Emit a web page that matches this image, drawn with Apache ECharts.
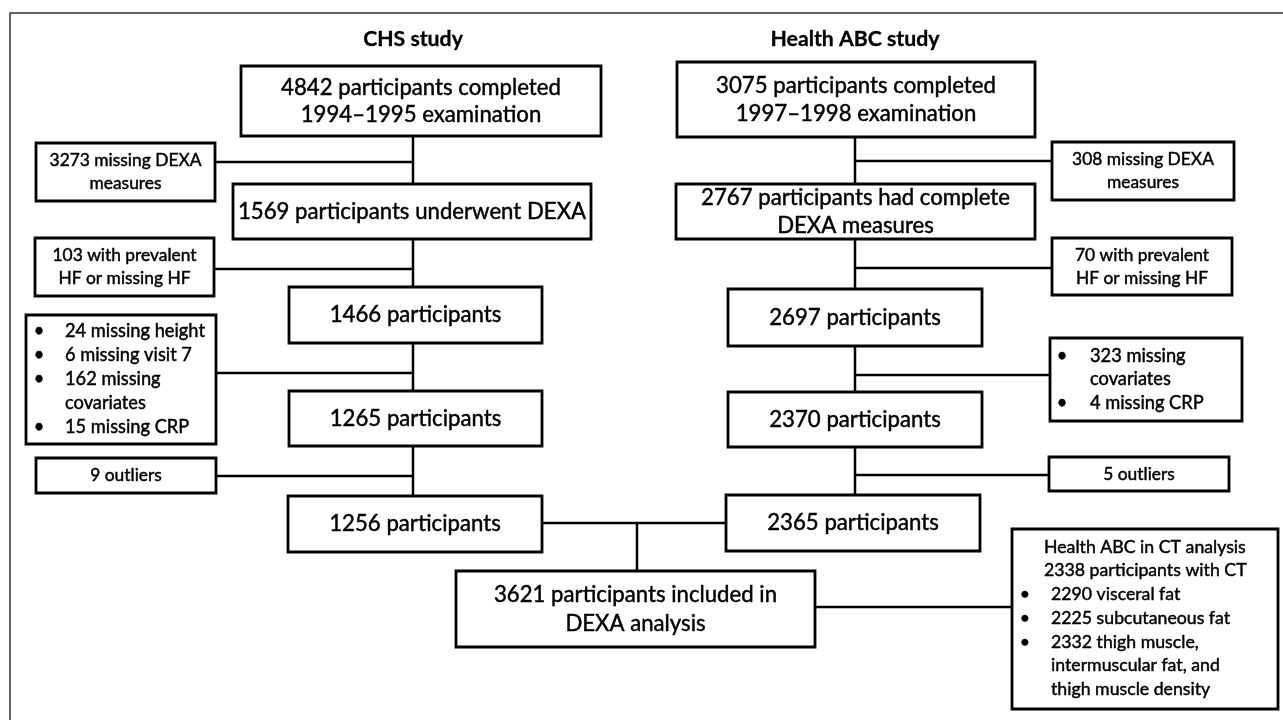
<!DOCTYPE html>
<html><head><meta charset="utf-8">
<script src="https://cdn.jsdelivr.net/npm/echarts@6/dist/echarts.min.js"></script>
<style>html,body{margin:0;padding:0;background:#fff}#c{width:1283px;height:720px}</style>
</head><body><div id="c"></div>
<script>
// ================= DATA =================
const studyTitles = ['CHS study', 'Health ABC study'];
const chsSteps = [
  '4842 participants completed\n1994\u20131995 examination',
  '1569 participants underwent DEXA',
  '1466 participants',
  '1265 participants',
  '1256 participants'
];
const abcSteps = [
  '3075 participants completed\n1997\u20131998 examination',
  '2767 participants had complete\nDEXA measures',
  '2697 participants',
  '2370 participants',
  '2365 participants'
];
const chsExclusions = ['3273 missing DEXA\nmeasures', '103 with prevalent\nHF or missing HF', null, '9 outliers'];
const chsCovariateBullets = ['24 missing height', '6 missing visit 7', '162 missing\ncovariates', '15 missing CRP'];
const abcExclusions = ['308 missing DEXA\nmeasures', '70 with prevalent\nHF or missing HF', null, '5 outliers'];
const abcCovariateBullets = ['323 missing\ncovariates', '4 missing CRP'];
const combinedLabel = '3621 participants included in\nDEXA analysis';
const ctHeader = ['Health ABC in CT analysis', '2338 participants with CT'];
const ctBullets = ['2290 visceral fat', '2225 subcutaneous fat', '2332 thigh muscle,\nintermuscular fat, and\nthigh muscle density'];

// ================= LAYOUT =================
const W = 1283, H = 720;
const chsStepBoxes = [[241,66,601,136],[233,184,591,239],[289,287,542,343],[289,391,542,446],[288,496,542,552]];
const abcStepBoxes = [[677,62,1035,137],[676,184,1035,239],[728,289,982,346],[728,392,982,447],[726,495,980,551]];
const chsExclBoxes = [[36,143,215,201],[35,238,214,296],[26,315,216,444],[36,458,216,493]];
const chsExclLinkY = [162,269,373,476];
const abcExclBoxes = [[1052,142,1234,200],[1052,238,1232,295],[1050,338,1242,421],[1049,457,1229,491]];
const abcExclLinkY = [161,268,375,475];
const combinedBox = [456,571,815,647];
const ctBox = [1012,529,1278,709];
const trunkX = [413, 855];
const titleY = 39;
const joinX = 637, joinY = 523, ctLinkY = 607;
const chsBulletLayout = {bulletDX: 13, textDX: 39, firstDY: 16, step: 24};
const abcBulletLayout = {bulletDX: 12, textDX: 40, firstDY: 18, step: 23.5};
const ctLayout = {headerDX: 32, bulletDX: 13, textDX: 39, firstDY: 18, step: 23.7};

// font sizing (fit measured widths)
const FAMILY = 'Lato, "Liberation Sans", sans-serif';
const mctx = document.createElement('canvas').getContext('2d');
function fit(sample, target, weight) {
  mctx.font = weight + ' 100px ' + FAMILY;
  return 100 * target / mctx.measureText(sample).width;
}
const fMain = fit('4842 participants completed', 280, 'normal');
const fSide = fit('3273 missing DEXA', 152, 'normal');
const fBullet = fit('24 missing height', 140, 'normal');
const fCT = fit('Health ABC in CT analysis', 202, 'normal');
const fTitle = fit('Health ABC study', 169, 'bold');

// ================= ELEMENTS =================
const boxes = [];
chsSteps.forEach((t, i) => boxes.push({kind: 'box', rect: chsStepBoxes[i], text: t, size: fMain, lh: 27}));
abcSteps.forEach((t, i) => boxes.push({kind: 'box', rect: abcStepBoxes[i], text: t, size: fMain, lh: 28}));
chsExclusions.forEach((t, i) => {
  if (t) boxes.push({kind: 'box', rect: chsExclBoxes[i], text: t, size: fSide, lh: 23});
  else boxes.push({kind: 'list', rect: chsExclBoxes[i], items: chsCovariateBullets, lay: chsBulletLayout, size: fBullet});
});
abcExclusions.forEach((t, i) => {
  if (t) boxes.push({kind: 'box', rect: abcExclBoxes[i], text: t, size: fSide, lh: 23});
  else boxes.push({kind: 'list', rect: abcExclBoxes[i], items: abcCovariateBullets, lay: abcBulletLayout, size: fBullet});
});
boxes.push({kind: 'box', rect: combinedBox, text: combinedLabel, size: fMain, lh: 29});
boxes.push({kind: 'ct', rect: ctBox, header: ctHeader, items: ctBullets, lay: ctLayout, size: fCT});
studyTitles.forEach((t, i) => boxes.push({kind: 'title', x: trunkX[i], y: titleY, text: t, size: fTitle}));

// connectors (from box edges)
const links = [];
links.push([[trunkX[0], chsStepBoxes[0][3]], [trunkX[0], chsStepBoxes[4][1]]]);
links.push([[trunkX[1], abcStepBoxes[0][3]], [trunkX[1], abcStepBoxes[4][1]]]);
chsExclBoxes.forEach((b, i) => links.push([[b[2], chsExclLinkY[i]], [trunkX[0], chsExclLinkY[i]]]));
abcExclBoxes.forEach((b, i) => links.push([[trunkX[1], abcExclLinkY[i]], [b[0], abcExclLinkY[i]]]));
links.push([[chsStepBoxes[4][2], joinY], [abcStepBoxes[4][0], joinY]]);
links.push([[joinX, joinY], [joinX, combinedBox[1]]]);
links.push([[combinedBox[2], ctLinkY], [ctBox[0], ctLinkY]]);
// outer frame (cut by the canvas at right and bottom)
const frame = [[1290, 13], [10, 13], [10, 730]];

function txt(api, x, y, text, size, opts) {
  const p = api.coord([x, y]);
  return {type: 'text', style: Object.assign({
    text: text, x: p[0], y: p[1], fill: '#000',
    stroke: '#000', lineWidth: (opts && opts.weight === 'bold') ? 0.3 : 0.45,
    font: (opts && opts.weight || 'normal') + ' ' + size.toFixed(2) + 'px ' + FAMILY,
    align: 'center', verticalAlign: 'middle'
  }, opts && opts.style || {})};
}
function rectEl(api, r) {
  const a = api.coord([r[0], r[1]]), b = api.coord([r[2], r[3]]);
  return {type: 'rect', shape: {x: a[0], y: a[1], width: b[0] - a[0], height: b[1] - a[1]},
    style: {fill: '#fff', stroke: '#000', lineWidth: 2.8}};
}

function renderBox(params, api) {
  const d = boxes[params.dataIndex];
  const ch = [];
  if (d.kind === 'title') {
    ch.push(txt(api, d.x, d.y, d.text, d.size, {weight: 'bold'}));
    return {type: 'group', children: ch};
  }
  const r = d.rect;
  ch.push(rectEl(api, r));
  if (d.kind === 'box') {
    ch.push(txt(api, (r[0] + r[2]) / 2, (r[1] + r[3]) / 2, d.text, d.size, {style: {lineHeight: d.lh}}));
  } else {
    const L = d.lay;
    let line = 0;
    const lineY = k => r[1] + L.firstDY + k * L.step;
    if (d.header) {
      d.header.forEach(h => {
        ch.push(txt(api, r[0] + L.headerDX, lineY(line), h, d.size, {style: {align: 'left'}}));
        line++;
      });
    }
    d.items.forEach(it => {
      ch.push(txt(api, r[0] + L.bulletDX, lineY(line), '\u2022', d.size, {style: {align: 'center'}}));
      it.split('\n').forEach(s => {
        ch.push(txt(api, r[0] + L.textDX, lineY(line), s, d.size, {style: {align: 'left'}}));
        line++;
      });
    });
  }
  return {type: 'group', children: ch};
}

const linkData = links.concat([frame]);
function renderLink(params, api) {
  const isFrame = params.dataIndex === linkData.length - 1;
  const pts = linkData[params.dataIndex].map(p => api.coord(p));
  return {type: 'polyline', shape: {points: pts},
    style: {stroke: isFrame ? '#333' : '#000', lineWidth: isFrame ? 1.5 : 2.5, fill: null}};
}

const chart = echarts.init(document.getElementById('c'), null, {renderer: 'canvas'});
chart.setOption({
  animation: false,
  backgroundColor: '#fff',
  grid: {left: 0, right: 0, top: 0, bottom: 0},
  xAxis: {type: 'value', min: 0, max: W, show: false},
  yAxis: {type: 'value', min: 0, max: H, inverse: true, show: false},
  series: [
    {type: 'custom', coordinateSystem: 'cartesian2d', renderItem: renderLink, silent: true, clip: false, z: 1,
      data: linkData.map(l => [l[0][0], l[0][1]])},
    {type: 'custom', coordinateSystem: 'cartesian2d', renderItem: renderBox, silent: true, clip: false, z: 2,
      data: boxes.map(b => b.rect ? [b.rect[0], b.rect[1]] : [b.x, b.y])}
  ]
});
</script></body></html>
